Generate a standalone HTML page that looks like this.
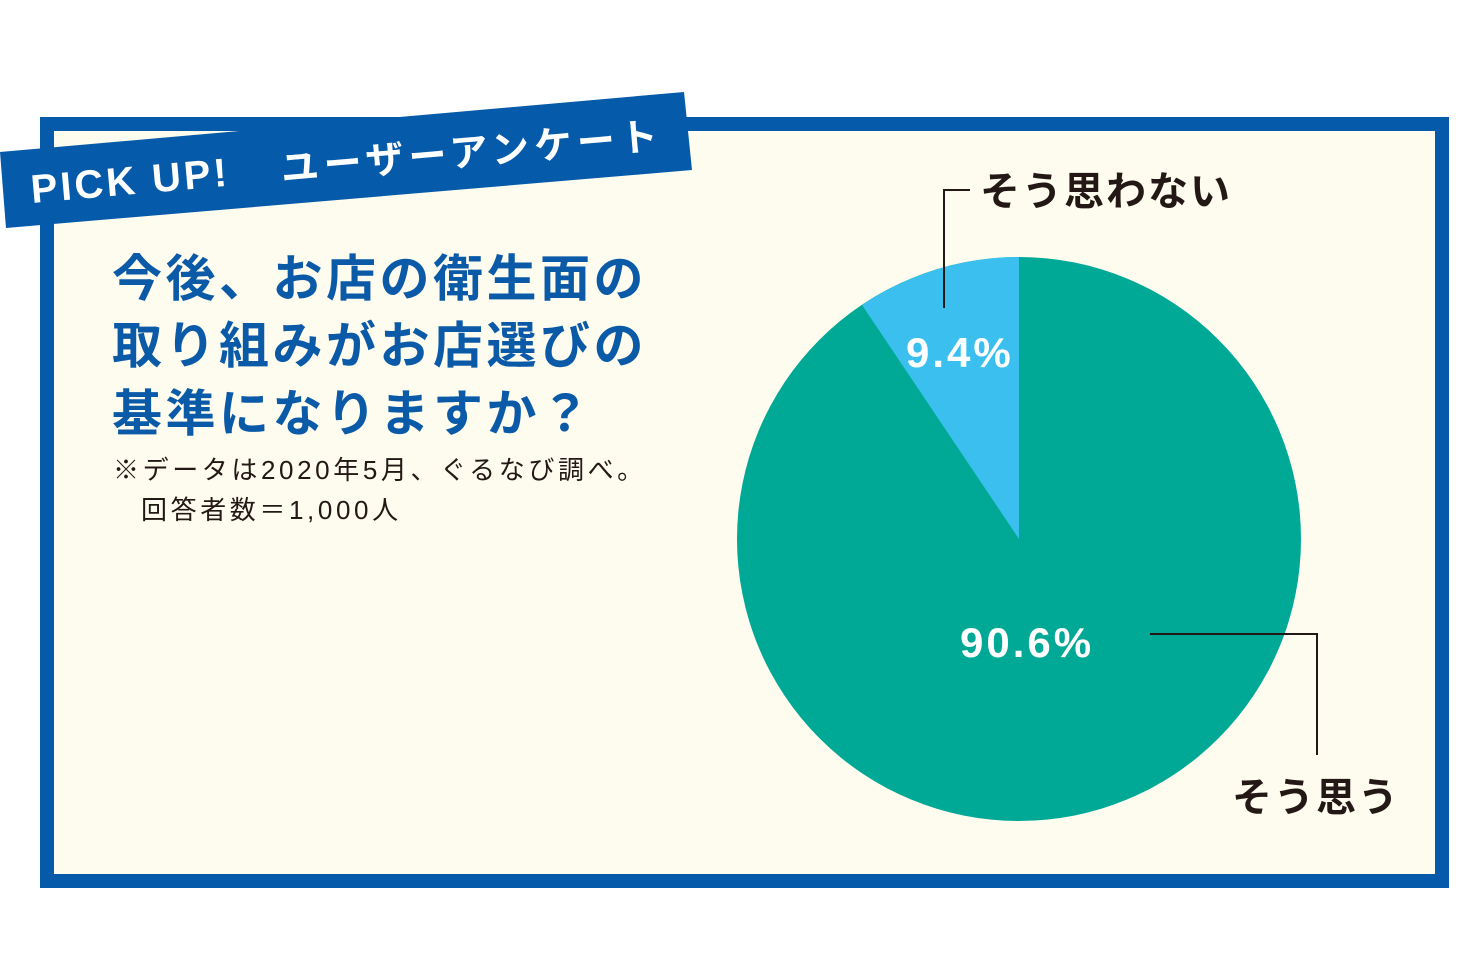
<!DOCTYPE html>
<html><head><meta charset="utf-8"><style>
body{margin:0;width:1470px;height:980px;background:#fff;overflow:hidden;position:relative;font-family:"Liberation Sans","Noto Sans CJK JP",sans-serif}
.frame{position:absolute;left:40px;top:117px;width:1381px;height:743px;border:14px solid #055aa9;background:#fdfcee}
.t{position:absolute;color:#0a5aa8;font-weight:bold;font-size:50px;left:112px;letter-spacing:3.5px;white-space:nowrap;line-height:1}
.n{position:absolute;color:#231815;font-size:26px;letter-spacing:3.6px;white-space:nowrap;line-height:1}
.lab{position:absolute;color:#231815;font-size:40px;font-weight:bold;letter-spacing:2px;white-space:nowrap;line-height:1}
.pct{position:absolute;color:#fff;font-size:42px;font-weight:bold;letter-spacing:3px;white-space:nowrap;line-height:1}
</style></head><body>
<div class="frame"></div>
<svg style="position:absolute;left:0;top:0" width="1470" height="980">
<polygon points="0,152 684,92 692,170 6,228" fill="#055aa9"/>
<text x="32" y="203" transform="rotate(-5 32 203)" fill="#fff" font-size="40" font-weight="bold" letter-spacing="3" font-family="Liberation Sans, Noto Sans CJK JP, sans-serif">PICK UP!</text>
<text x="282" y="182" transform="rotate(-5 282 182)" fill="#fff" font-size="38" font-weight="bold" font-family="Liberation Sans, Noto Sans CJK JP, sans-serif" letter-spacing="5">ユーザーアンケート</text>
<circle cx="1019" cy="539" r="282" fill="#00a896"/>
<path d="M1019,539 L1019,257 A282,282 0 0 0 862,305 Z" fill="#3bbfef"/>
<polyline points="944,308 944,190 970,190" fill="none" stroke="#231815" stroke-width="2"/>
<polyline points="1150,634 1317,634 1317,755" fill="none" stroke="#231815" stroke-width="2"/>
</svg>
<div class="t" style="top:254px">今後、お店の衛生面の</div>
<div class="t" style="top:321px">取り組みがお店選びの</div>
<div class="t" style="top:389px">基準になりますか？</div>
<div class="n" style="left:113px;top:457px">※データは2020年5月、ぐるなび調べ。</div>
<div class="n" style="left:141px;top:497px">回答者数＝1,000人</div>
<div class="lab" style="left:980px;top:172px">そう思わない</div>
<div class="lab" style="left:1232px;top:778px">そう思う</div>
<div class="pct" style="left:906px;top:332px">9.4%</div>
<div class="pct" style="left:960px;top:622px">90.6%</div>
</body></html>
